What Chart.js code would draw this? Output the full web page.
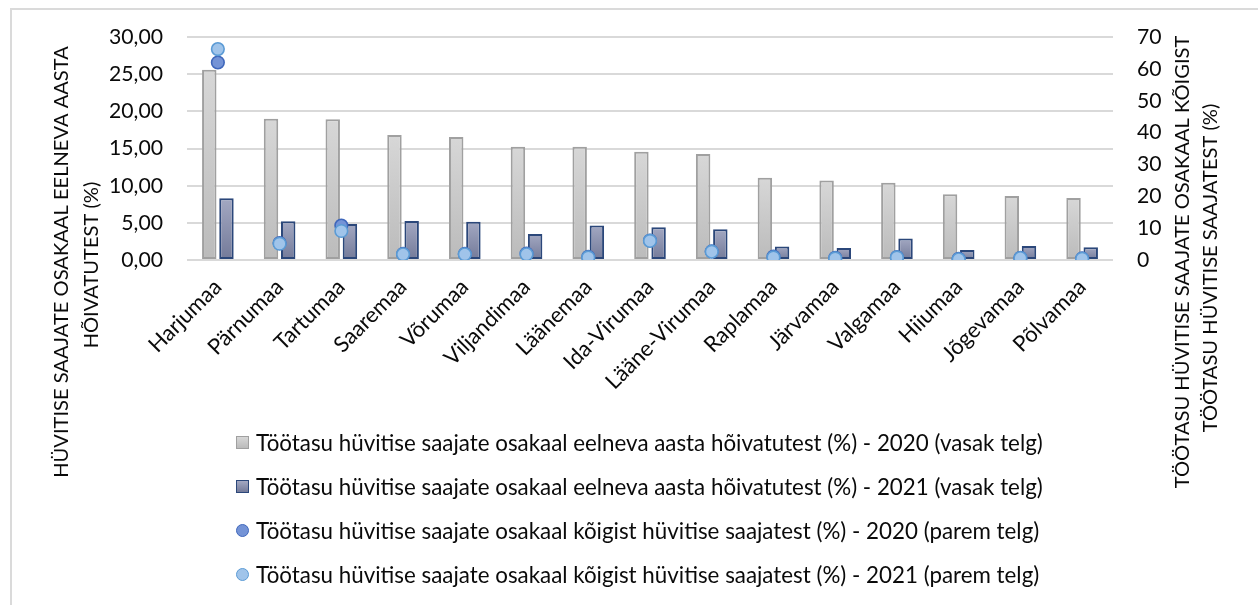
<!DOCTYPE html>
<html>
<head>
<meta charset="utf-8">
<script src="https://cdn.jsdelivr.net/npm/chart.js@4.4.1/dist/chart.umd.min.js"></script>
<style>
  html, body { margin: 0; padding: 0; background: #ffffff; }
  #wrap { position: relative; width: 1258px; height: 605px; overflow: hidden; font-family: Lato, "Open Sans", sans-serif; color: #0a0a0a; }
  #frame { position: absolute; left: 10px; top: 8px; width: 1400px; height: 800px; border-left: 2px solid #dadada; border-top: 2px solid #dadada; }
  #c { position: absolute; left: 0; top: 0; }
  #legend { position: absolute; left: 0; top: 0; width: 1258px; height: 605px; pointer-events: none; }
  .item { position: absolute; left: 236px; height: 30px; display: flex; align-items: center; white-space: nowrap; }
  .mk { display: inline-block; width: 13px; height: 13px; box-sizing: border-box; margin-right: 7px; flex: none; }
</style>
</head>
<body>
<div id="wrap">
  <div id="frame"></div>
  <canvas id="c" width="1258" height="605"></canvas>
  <div id="legend"></div>
</div>
<script>
// ---------------- data ----------------
const categories = ['Harjumaa','Pärnumaa','Tartumaa','Saaremaa','Võrumaa','Viljandimaa','Läänemaa','Ida-Virumaa','Lääne-Virumaa','Raplamaa','Järvamaa','Valgamaa','Hiiumaa','Jõgevamaa','Põlvamaa'];
const shareEmployed2020 = [25.6, 19.0, 18.95, 16.8, 16.55, 15.25, 15.25, 14.55, 14.25, 11.05, 10.7, 10.4, 8.85, 8.6, 8.35];
const shareEmployed2021 = [8.3, 5.2, 4.85, 5.25, 5.15, 3.5, 4.65, 4.4, 4.15, 1.8, 1.6, 2.9, 1.35, 1.9, 1.7];
const shareAll2020 = [62.0, 5.3, 10.8, 1.9, 1.9, 2.0, 1.0, 6.1, 2.7, 1.1, 0.7, 0.9, 0.4, 0.7, 0.5];
const shareAll2021 = [66.2, 5.1, 9.1, 1.8, 1.8, 1.8, 0.8, 6.0, 2.6, 0.8, 0.5, 0.8, 0.2, 0.6, 0.4];
const leftTicks = ['0,00','5,00','10,00','15,00','20,00','25,00','30,00'];
const rightTicks = ['0','10','20','30','40','50','60','70'];
const seriesLabels = [
  'Töötasu hüvitise saajate osakaal eelneva aasta hõivatutest (%) - 2020 (vasak telg)',
  'Töötasu hüvitise saajate osakaal eelneva aasta hõivatutest (%) - 2021 (vasak telg)',
  'Töötasu hüvitise saajate osakaal kõigist hüvitise saajatest (%) - 2020 (parem telg)',
  'Töötasu hüvitise saajate osakaal kõigist hüvitise saajatest (%) - 2021 (parem telg)'
];
const leftTitle = ['HÜVITISE SAAJATE OSAKAAL EELNEVA AASTA', 'HÕIVATUTEST (%)'];
const rightTitle = ['TÖÖTASU HÜVITISE SAAJATE OSAKAAL KÕIGIST', 'TÖÖTASU HÜVITISE SAAJATEST (%)'];

// ---------------- styling ----------------
const FAMILY = 'Lato';
const TEXT = '#0a0a0a';
const mctx = document.createElement('canvas').getContext('2d');
function fit(text, target) { mctx.font = '100px ' + FAMILY; return 100 * target / mctx.measureText(text).width; }
const tickSize = fit('30,00', 54);
const xSize = fit('Pärnumaa', 96);
const titleSize = fit(leftTitle[0], 432);
const legendSize = fit(seriesLabels[0], 787);

function barGrad(ctx, c1, c2) {
  const chart = ctx.chart;
  const area = chart.chartArea;
  if (!area || ctx.raw == null) return c2;
  const yTop = chart.scales.y.getPixelForValue(ctx.raw);
  const g = chart.ctx.createLinearGradient(0, yTop, 0, area.bottom);
  g.addColorStop(0, c1);
  g.addColorStop(1, c2);
  return g;
}

const COLORS = {
  gray: { top: '#d7d7d7', bottom: '#bbbbbb', border: '#a0a0a0' },
  navy: { top: '#a3a8c2', bottom: '#737a99', border: '#2b477a' },
  pt20: { fill: '#7493d6', border: '#3f67bb' },
  pt21: { fill: '#a0c4ea', border: '#5b9bd5' }
};

const titlePlugin = {
  id: 'axisTitles',
  afterDraw(chart) {
    const ctx = chart.ctx;
    ctx.save();
    ctx.fillStyle = TEXT;
    ctx.font = titleSize + 'px ' + FAMILY;
    ctx.textAlign = 'center';
    ctx.textBaseline = 'middle';
    const draw = (x, y, t) => { ctx.save(); ctx.translate(x, y); ctx.rotate(-Math.PI / 2); ctx.fillText(t, 0, 0); ctx.restore(); };
    draw(62, 262, leftTitle[0]);
    draw(92, 265, leftTitle[1]);
    draw(1183, 262, rightTitle[0]);
    draw(1211, 268, rightTitle[1]);
    ctx.restore();
  }
};

const chart = new Chart(document.getElementById('c'), {
  type: 'bar',
  data: {
    labels: categories,
    datasets: [
      { type: 'bar', label: seriesLabels[0], data: shareEmployed2020, yAxisID: 'y', order: 3,
        backgroundColor: c => barGrad(c, COLORS.gray.top, COLORS.gray.bottom), borderColor: COLORS.gray.border,
        borderWidth: 2, borderSkipped: false, barPercentage: 0.84, categoryPercentage: 0.557 },
      { type: 'bar', label: seriesLabels[1], data: shareEmployed2021, yAxisID: 'y', order: 3,
        backgroundColor: c => barGrad(c, COLORS.navy.top, COLORS.navy.bottom), borderColor: COLORS.navy.border,
        borderWidth: 2, borderSkipped: false, barPercentage: 0.84, categoryPercentage: 0.557 },
      { type: 'line', label: seriesLabels[2], data: shareAll2020, yAxisID: 'y1', order: 2, showLine: false,
        pointRadius: 6.3, pointHoverRadius: 6.3, pointBorderWidth: 1.6,
        backgroundColor: COLORS.pt20.fill, borderColor: COLORS.pt20.border },
      { type: 'line', label: seriesLabels[3], data: shareAll2021, yAxisID: 'y1', order: 1, showLine: false,
        pointRadius: 6.3, pointHoverRadius: 6.3, pointBorderWidth: 1.6,
        backgroundColor: COLORS.pt21.fill, borderColor: COLORS.pt21.border }
    ]
  },
  options: {
    responsive: false,
    animation: false,
    devicePixelRatio: 1,
    layout: { padding: { top: 37, left: 0, right: 0, bottom: 0 } },
    plugins: { legend: { display: false }, tooltip: { enabled: false } },
    scales: {
      x: {
        grid: { display: false }, border: { display: false },
        ticks: { autoSkip: false, minRotation: 45, maxRotation: 45, padding: 6, color: TEXT, font: { family: FAMILY, size: xSize } },
        afterFit(s) { s.height = 605 - 260; }
      },
      y: {
        position: 'left', min: 0, max: 30,
        grid: { color: '#d9d9d9', lineWidth: 2, drawTicks: false }, border: { display: false },
        ticks: { stepSize: 5, padding: 24, color: TEXT, font: { family: FAMILY, size: tickSize }, callback: (v, i) => leftTicks[i] },
        afterFit(s) { s.width = 187; }
      },
      y1: {
        position: 'right', min: 0, max: 70,
        grid: { display: false, drawTicks: false }, border: { display: false },
        ticks: { stepSize: 10, padding: 24, color: TEXT, font: { family: FAMILY, size: tickSize }, callback: (v, i) => rightTicks[i] },
        afterFit(s) { s.width = 1258 - 1113; }
      }
    }
  },
  plugins: [titlePlugin]
});

// ---------------- HTML legend (one entry per row) ----------------
const legend = document.getElementById('legend');
const markerCss = [
  `background:linear-gradient(${COLORS.gray.top},${COLORS.gray.bottom});border:1.5px solid ${COLORS.gray.border};`,
  `background:linear-gradient(${COLORS.navy.top},${COLORS.navy.bottom});border:1.5px solid ${COLORS.navy.border};`,
  `background:${COLORS.pt20.fill};border:1.5px solid ${COLORS.pt20.border};border-radius:50%;`,
  `background:${COLORS.pt21.fill};border:1.5px solid ${COLORS.pt21.border};border-radius:50%;`
];
chart.data.datasets.forEach((ds, i) => {
  const row = document.createElement('div');
  row.className = 'item';
  row.style.top = (442 + i * 44 - 15) + 'px';
  row.style.fontSize = legendSize + 'px';
  const mk = document.createElement('span');
  mk.className = 'mk';
  mk.style.cssText = markerCss[i];
  const tx = document.createElement('span');
  tx.textContent = ds.label;
  row.appendChild(mk);
  row.appendChild(tx);
  legend.appendChild(row);
});
</script>
</body>
</html>
